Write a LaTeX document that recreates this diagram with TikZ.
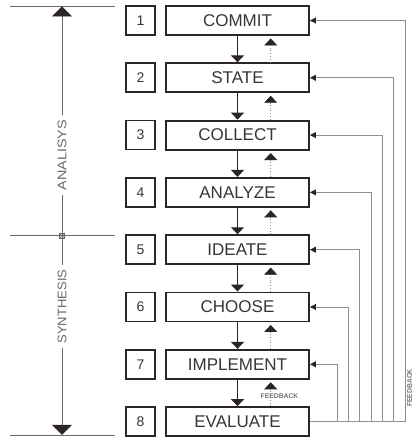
\documentclass[tikz,border=0pt]{standalone}
\usepackage{fontspec}
\setmainfont{Liberation Sans}
\usetikzlibrary{arrows.meta,calc}
\definecolor{dk}{HTML}{2B2523}
\definecolor{fb}{HTML}{8E8E8E}
\definecolor{lg}{HTML}{6A6A6A}
\definecolor{tx}{HTML}{363636}
\begin{document}
\begin{tikzpicture}[x=1pt,y=-1pt,
  stepbox/.style={draw=dk,line width=1.9pt,minimum width=143pt,minimum height=29pt,inner sep=0pt,font=\fontsize{17}{17}\selectfont,text=tx},
  numbox/.style={draw=dk,line width=1.7pt,minimum width=29pt,minimum height=29pt,inner sep=0pt,font=\fontsize{14}{14}\selectfont,text=tx},
  downarr/.style={draw=dk,line width=1.3pt,-{Triangle[width=13pt,length=7pt,color=dk]}},
  uparr/.style={draw=fb,line width=0.8pt,dotted,-{Triangle[width=13pt,length=7pt,color=dk]}},
  fbline/.style={draw=fb,line width=0.9pt},
  fbarr/.style={draw=fb,line width=0.9pt,-{Triangle[width=6pt,length=6pt,color=dk]}},
  sideline/.style={draw=lg,line width=0.9pt},
  sidelabel/.style={fill=white,rotate=90,inner xsep=5pt,inner ysep=4pt,text=lg,font=\fontsize{12.5}{12.5}\selectfont},
  tinylabel/.style={text=fb!80!black,font=\fontsize{6.8}{6.8}\selectfont\bfseries,inner sep=0pt}
]
\useasboundingbox (0,0) rectangle (412,438);

% step boxes and number boxes
\foreach \i/\t in {1/COMMIT,2/STATE,3/COLLECT,4/ANALYZE,5/IDEATE,6/CHOOSE,7/IMPLEMENT,8/EVALUATE}{
  \node[stepbox] (b\i) at (237.5,{20.5+57.3*(\i-1)}) {\t};
  \node[numbox] (n\i) at (140.5,{20.5+57.3*(\i-1)}) {\i};
}

% down arrows and dotted feedback arrows
\coordinate (ux) at (270.7,0);
\foreach \i [evaluate=\i as \j using int(\i+1)] in {1,...,7}{
  \draw[downarr] (b\i.south) -- (b\j.north);
  \draw[uparr] (ux |- b\j.north) -- ($(ux |- b\i.south)+(0,2.5)$);
}

% feedback loops on the right
\foreach \k in {1,...,7}{
  \coordinate (f\k) at ({405-(\k-1)*11.33},0);
}
\draw[fbline] (b8.east) -- (f1 |- b8.east);
\foreach \k in {1,...,7}{
  \draw[fbarr] (f\k |- b8.east) -- (f\k |- b\k.east) -- (b\k.east);
}

\node[tinylabel] (fbh) at (279.5,396) {FEEDBACK};
\node[tinylabel,rotate=90] (fbv) at (409.5,388) {FEEDBACK};

% left side: analysis / synthesis
\coordinate (ltop) at (62,6);
\coordinate (lmid) at (62,235.7);
\coordinate (lbot) at (62,435.7);
\draw[sideline] (10,6) -- (115,6);
\draw[sideline] (10,235.7) -- (115,235.7);
\draw[sideline] (10,435.7) -- (115,435.7);
\draw[sideline,-{Triangle[width=20pt,length=10pt,color=dk]}] (lmid) -- ($(ltop)+(0,0.5)$);
\draw[sideline,-{Triangle[width=20pt,length=10pt,color=dk]}] (lmid) -- ($(lbot)+(0,-0.8)$);
\node[draw=lg,line width=0.7pt,minimum size=5pt,inner sep=0pt] (mk) at (lmid) {};
\draw[lg,line width=0.6pt] (mk.north west) -- (mk.south east) (mk.north east) -- (mk.south west);

\node[sidelabel] (an) at (62,155) {\scalebox{1.15}[1]{ANALISYS}};
\node[sidelabel] (sy) at (62,306.5) {\scalebox{1.04}[1]{SYNTHESIS}};
\end{tikzpicture}
\end{document}
